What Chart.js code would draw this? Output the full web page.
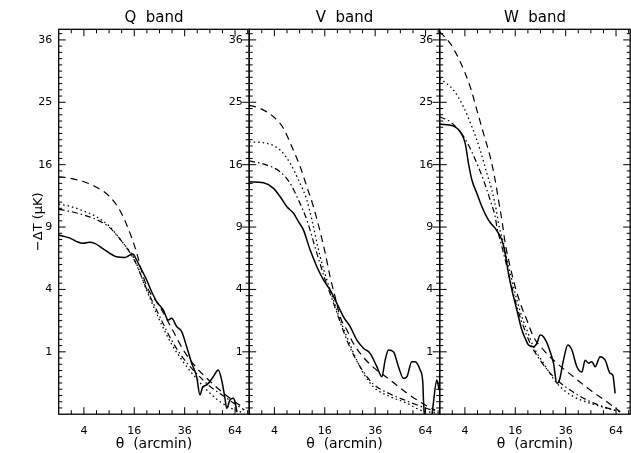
<!DOCTYPE html>
<html><head><meta charset="utf-8">
<script src="https://cdn.jsdelivr.net/npm/chart.js@4.4.1/dist/chart.umd.min.js"></script>
<style>
html,body{margin:0;padding:0;background:#fff;}
#wrap{position:relative;width:631px;height:453px;overflow:hidden;background:#fff;}
canvas{position:absolute;left:0;top:0;}
</style></head><body>
<div id="wrap">
<canvas id="cQ" width="631" height="453"></canvas>
<canvas id="cV" width="631" height="453"></canvas>
<canvas id="cW" width="631" height="453"></canvas>
</div>
<script>
// ---------- axis definitions ----------
const panelTitles = ['Q  band', 'V  band', 'W  band'];
const xTickLabels = [4, 16, 36, 64];          // theta (arcmin), sqrt-spaced
const yTickLabels = [1, 4, 9, 16, 25, 36];    // -dT (uK), sqrt-spaced
const thetaRange = [1, 73.3];
const dTRange = [0, 38.07];

// ---------- Q band ----------
const qSolidTheta = [1, 2.10, 3.00, 3.90, 4.90, 5.90, 7.50, 10.90, 13.18, 14.66, 15.50, 16.77, 17.86, 20.18, 22.00, 23.90, 26.53, 28.61, 30.07, 32.30, 34.59, 36.96, 39.41, 41.94, 43.65, 45.08, 47.24, 50.91, 53.77, 55.77, 57.75, 58.78, 60.81, 62.87, 63.94, 65.21];
const qSolidDT    = [8.25, 7.97, 7.64, 7.50, 7.59, 7.50, 7.07, 6.37, 6.32, 6.51, 6.59, 6.11, 5.59, 4.63, 3.85, 3.25, 2.79, 2.28, 2.36, 1.97, 1.75, 1.17, 0.67, 0.36, 0.095, 0.19, 0.22, 0.36, 0.50, 0.30, 0.065, 0.009, 0.052, 0.065, 0.04, 0.0012];
const qDashTheta  = [1, 2, 4, 6, 9, 12, 16, 20, 25, 30, 36, 42, 49, 56, 64, 70];
const qDashDT     = [14.49, 14.33, 13.88, 13.32, 12.23, 10.50, 7.35, 4.29, 3.01, 1.91, 0.99, 0.55, 0.28, 0.127, 0.038, 0.0099];
const qDotTheta   = [1, 2, 4, 6, 9, 12, 16, 20, 25, 30, 36, 42, 49, 56, 64, 70];
const qDotDT      = [11.35, 11.13, 10.60, 10.09, 9.10, 7.79, 6.19, 4.03, 2.28, 1.27, 0.65, 0.32, 0.115, 0.032, 0.0045, 0.0004];
const qDashDotTheta = [1, 2, 4, 6, 9, 12, 16, 20, 25, 30, 36, 42, 49, 56, 64, 70];
const qDashDotDT    = [10.78, 10.60, 10.19, 9.79, 9.00, 7.79, 6.11, 4.09, 2.48, 1.41, 0.75, 0.42, 0.20, 0.095, 0.027, 0.0045];

// ---------- V band ----------
const vSolidTheta = [1, 2.46, 3.86, 4.97, 6.23, 7.61, 8.74, 9.95, 11.70, 13.59, 15.59, 17.76, 20.07, 22.49, 25.08, 27.82, 30.65, 33.66, 36.81, 39.26, 40.92, 42.62, 45.24, 47.96, 50.74, 52.68, 55.59, 57.56, 60.62, 62.30, 62.68, 63.2, 66, 68.2, 68.92, 71.37, 72.93];
const vSolidDT    = [13.88, 13.76, 13.11, 12.15, 11.06, 10.37, 9.52, 8.71, 6.92, 5.59, 4.63, 3.96, 3.16, 2.44, 1.97, 1.41, 1.12, 0.95, 0.58, 0.36, 0.75, 1.06, 1.00, 0.58, 0.33, 0.36, 0.71, 0.71, 0.50, 0.245, 0.052, 0, null, 0, 0.022, 0.30, 0.15];
const vDashTheta  = [1, 2.07, 3.86, 5.57, 7.26, 9.15, 10.82, 12.61, 14.06, 16.13, 17.76, 19.47, 21.26, 23.79, 26.29, 30.51, 35.06, 43.50, 52.68, 63.74, 70.24];
const vDashDT     = [24.55, 24.03, 22.73, 20.99, 18.38, 15.73, 13.29, 11.06, 9.19, 6.67, 4.83, 3.53, 2.43, 1.82, 1.30, 0.84, 0.57, 0.30, 0.115, 0.022, 0.0045];
const vDotTheta   = [1, 2.90, 4.97, 6.90, 8.74, 10.82, 12.17, 14.57, 16.67, 18.88, 21.26, 23.79, 27.10, 30.65, 35.20, 43.50, 52.68, 60.62, 70.24];
const vDotDT      = [19.07, 18.85, 17.93, 16.17, 14.09, 11.78, 9.69, 6.37, 4.63, 3.35, 2.28, 1.54, 0.85, 0.43, 0.19, 0.079, 0.031, 0.0045, 0.0004];
const vDashDotTheta = [1, 2.90, 4.97, 6.90, 8.74, 10.82, 13.59, 16.13, 18.88, 21.26, 23.79, 27.10, 30.65, 35.20, 43.50, 52.68, 63.74, 70.24];
const vDashDotDT    = [16.50, 15.95, 15.10, 13.69, 11.78, 9.69, 6.65, 4.63, 3.18, 2.18, 1.41, 0.81, 0.46, 0.23, 0.105, 0.045, 0.0099, 0.0026];

// ---------- W band ----------
const wSolidTheta = [1, 2.40, 3.29, 4.05, 4.59, 5.19, 6.13, 7.16, 8.62, 10.25, 11.11, 12.03, 12.95, 13.91, 14.94, 15.97, 17.03, 18.16, 19.30, 20.47, 22.30, 23.59, 24.88, 26.20, 28.27, 30.43, 31.93, 33.11, 34.96, 37.05, 39.01, 41.53, 44.13, 45.89, 47.68, 49.56, 51.42, 54.30, 57.26, 60.31, 61.98, 63.43];
const wSolidDT    = [21.63, 21.33, 20.50, 18.85, 16.17, 14.09, 12.53, 11.06, 9.69, 8.88, 8.40, 7.79, 6.65, 5.10, 3.96, 3.16, 2.44, 1.82, 1.48, 1.23, 1.17, 1.29, 1.61, 1.54, 1.17, 0.67, 0.245, 0.30, 0.75, 1.23, 1.06, 0.58, 0.46, 0.75, 0.67, 0.71, 0.58, 0.85, 0.75, 0.43, 0.39, 0.112];
const wDashTheta  = [1, 2.01, 3.29, 4.88, 6.13, 7.50, 9.02, 10.25, 11.11, 12.03, 12.95, 14.42, 15.97, 17.59, 19.89, 22.30, 26.20, 31.93, 39.82, 48.61, 58.29, 66.63];
const wDashDT     = [37.58, 35.33, 31.91, 27.55, 23.77, 20.26, 17.03, 14.09, 11.78, 9.69, 7.53, 5.59, 4.17, 3.18, 2.28, 1.54, 1.06, 0.67, 0.36, 0.15, 0.04, 0.0016];
const wDotTheta   = [1, 2.40, 3.78, 5.19, 6.80, 8.25, 9.43, 10.69, 11.11, 12.47, 13.45, 14.94, 16.51, 18.16, 19.89, 22.30, 26.20, 31.93, 39.82, 48.61, 58.29, 66.63];
const wDotDT      = [28.98, 26.99, 24.28, 21.23, 17.93, 14.90, 12.91, 10.37, 9.36, 7.53, 6.11, 4.63, 3.35, 2.44, 1.82, 1.17, 0.67, 0.245, 0.079, 0.031, 0.009, 0.0016];
const wDashDotTheta = [1, 2.01, 3.29, 4.59, 6.13, 7.50, 9.02, 10.25, 10.69, 12.03, 13.45, 14.94, 16.51, 18.71, 21.08, 24.88, 30.43, 38.18, 46.80, 56.25, 66.63];
const wDashDotDT    = [22.73, 21.97, 20.50, 18.61, 16.17, 14.09, 11.78, 10.02, 9.03, 7.21, 5.59, 4.17, 2.97, 1.97, 1.29, 0.75, 0.36, 0.15, 0.052, 0.014, 0.0016];

// ---------- square-root scale ----------
class SqrtScale extends Chart.LinearScale {
  determineDataLimits() {
    this.min = Math.sqrt(this.options.min);
    this.max = Math.sqrt(this.options.max);
  }
  buildTicks() {
    return (this.options.tickValues || []).map(v => ({ value: v }));
  }
  getPixelForValue(value) {
    if (value === null || value === undefined || isNaN(value) || value < 0) return NaN;
    return this.getPixelForDecimal((Math.sqrt(value) - this._startValue) / this._valueRange);
  }
  getValueForPixel(pixel) {
    const s = this._startValue + this.getDecimalForPixel(pixel) * this._valueRange;
    return s * s;
  }
}
SqrtScale.id = 'sqrt';
SqrtScale.defaults = { ticks: { callback: v => String(v) } };
Chart.register(SqrtScale);

Chart.defaults.font.family = "'DejaVu Sans', 'Liberation Sans', sans-serif";
Chart.defaults.color = '#000';

// frame with inward major/minor ticks (IDL style)
const frameTicks = {
  id: 'frameTicks',
  afterDatasetsDraw(chart) {
    const { ctx, chartArea: a, scales: { x, y } } = chart;
    ctx.save();
    ctx.strokeStyle = '#000';
    ctx.lineWidth = 1;
    ctx.beginPath();
    for (let k = 1; k <= 70; k++) {
      const s = k / 10;
      const py = y.getPixelForValue(s * s);
      if (py < a.top + 0.5) break;
      const len = (k % 10 === 0) ? 7 : 3.5;
      ctx.moveTo(a.left, py); ctx.lineTo(a.left + len, py);
      ctx.moveTo(a.right, py); ctx.lineTo(a.right - len, py);
    }
    for (let k = 3; k <= 20; k++) {
      const s = k / 2;
      const px = x.getPixelForValue(s * s);
      if (px > a.right - 0.5) break;
      const len = (k % 4 === 0) ? 7 : 4;
      ctx.moveTo(px, a.bottom); ctx.lineTo(px, a.bottom - len);
      ctx.moveTo(px, a.top); ctx.lineTo(px, a.top + len);
    }
    ctx.stroke();
    ctx.lineWidth = 1.3;
    ctx.strokeRect(a.left, a.top, a.right - a.left, a.bottom - a.top);
    ctx.restore();
  }
};

const styleSolid = { w: 1.5, dash: [] };
const styleDash = { w: 1.2, dash: [7, 5] };
const styleDot = { w: 1.3, dash: [1.5, 3] };
const styleDashDot = { w: 1.2, dash: [6, 3, 1.5, 3] };

function makePanel(id, title, padL, padR, yWidth, showYTitle, series) {
  return new Chart(document.getElementById(id), {
    type: 'line',
    data: {
      datasets: series.map(s => ({
        data: s.theta.map((t, i) => ({ x: t, y: s.dT[i] })),
        borderColor: '#000',
        borderWidth: s.style.w,
        borderDash: s.style.dash,
        pointRadius: 0,
        fill: false,
        cubicInterpolationMode: 'monotone',
        spanGaps: false
      }))
    },
    options: {
      responsive: false,
      animation: false,
      events: [],
      layout: { padding: { left: padL, right: padR, top: 0, bottom: 0 } },
      plugins: {
        legend: { display: false },
        tooltip: { enabled: false },
        title: {
          display: true, text: title, fullSize: false, color: '#000',
          font: { size: 15, weight: 'normal' },
          padding: { top: 9, bottom: 2.3 }
        }
      },
      scales: {
        x: {
          type: 'sqrt', position: 'bottom',
          min: thetaRange[0], max: thetaRange[1], tickValues: xTickLabels,
          grid: { display: false, drawTicks: false },
          border: { display: false },
          ticks: { font: { size: 11 }, color: '#000', padding: 10.5, maxRotation: 0, autoSkip: false },
          title: { display: true, text: 'θ  (arcmin)', color: '#000', font: { size: 14 }, padding: { top: 0, bottom: 0.3 } },
          afterFit(s) { s.height = 38.8; s.paddingLeft = 0; s.paddingRight = 0; }
        },
        y: {
          type: 'sqrt', position: 'left',
          min: dTRange[0], max: dTRange[1], tickValues: yTickLabels,
          grid: { display: false, drawTicks: false },
          border: { display: false },
          ticks: { font: { size: 11 }, color: '#000', padding: 6.5, autoSkip: false },
          title: { display: showYTitle, text: '−ΔT (μK)', color: '#000', font: { size: 13 }, padding: { top: 31, bottom: 0 } },
          afterFit(s) { s.width = yWidth; s.paddingTop = 0; s.paddingBottom = 0; }
        }
      }
    },
    plugins: [frameTicks]
  });
}

makePanel('cQ', panelTitles[0], 0, 631 - 249.2, 58.7, true, [
  { theta: qSolidTheta, dT: qSolidDT, style: styleSolid },
  { theta: qDashTheta, dT: qDashDT, style: styleDash },
  { theta: qDotTheta, dT: qDotDT, style: styleDot },
  { theta: qDashDotTheta, dT: qDashDotDT, style: styleDashDot }
]);
makePanel('cV', panelTitles[1], 249.2 - 40, 631 - 439.7, 40, false, [
  { theta: vSolidTheta, dT: vSolidDT, style: styleSolid },
  { theta: vDashTheta, dT: vDashDT, style: styleDash },
  { theta: vDotTheta, dT: vDotDT, style: styleDot },
  { theta: vDashDotTheta, dT: vDashDotDT, style: styleDashDot }
]);
makePanel('cW', panelTitles[2], 439.7 - 40, 631 - 630.2, 40, false, [
  { theta: wSolidTheta, dT: wSolidDT, style: styleSolid },
  { theta: wDashTheta, dT: wDashDT, style: styleDash },
  { theta: wDotTheta, dT: wDotDT, style: styleDot },
  { theta: wDashDotTheta, dT: wDashDotDT, style: styleDashDot }
]);
</script>
</body></html>
